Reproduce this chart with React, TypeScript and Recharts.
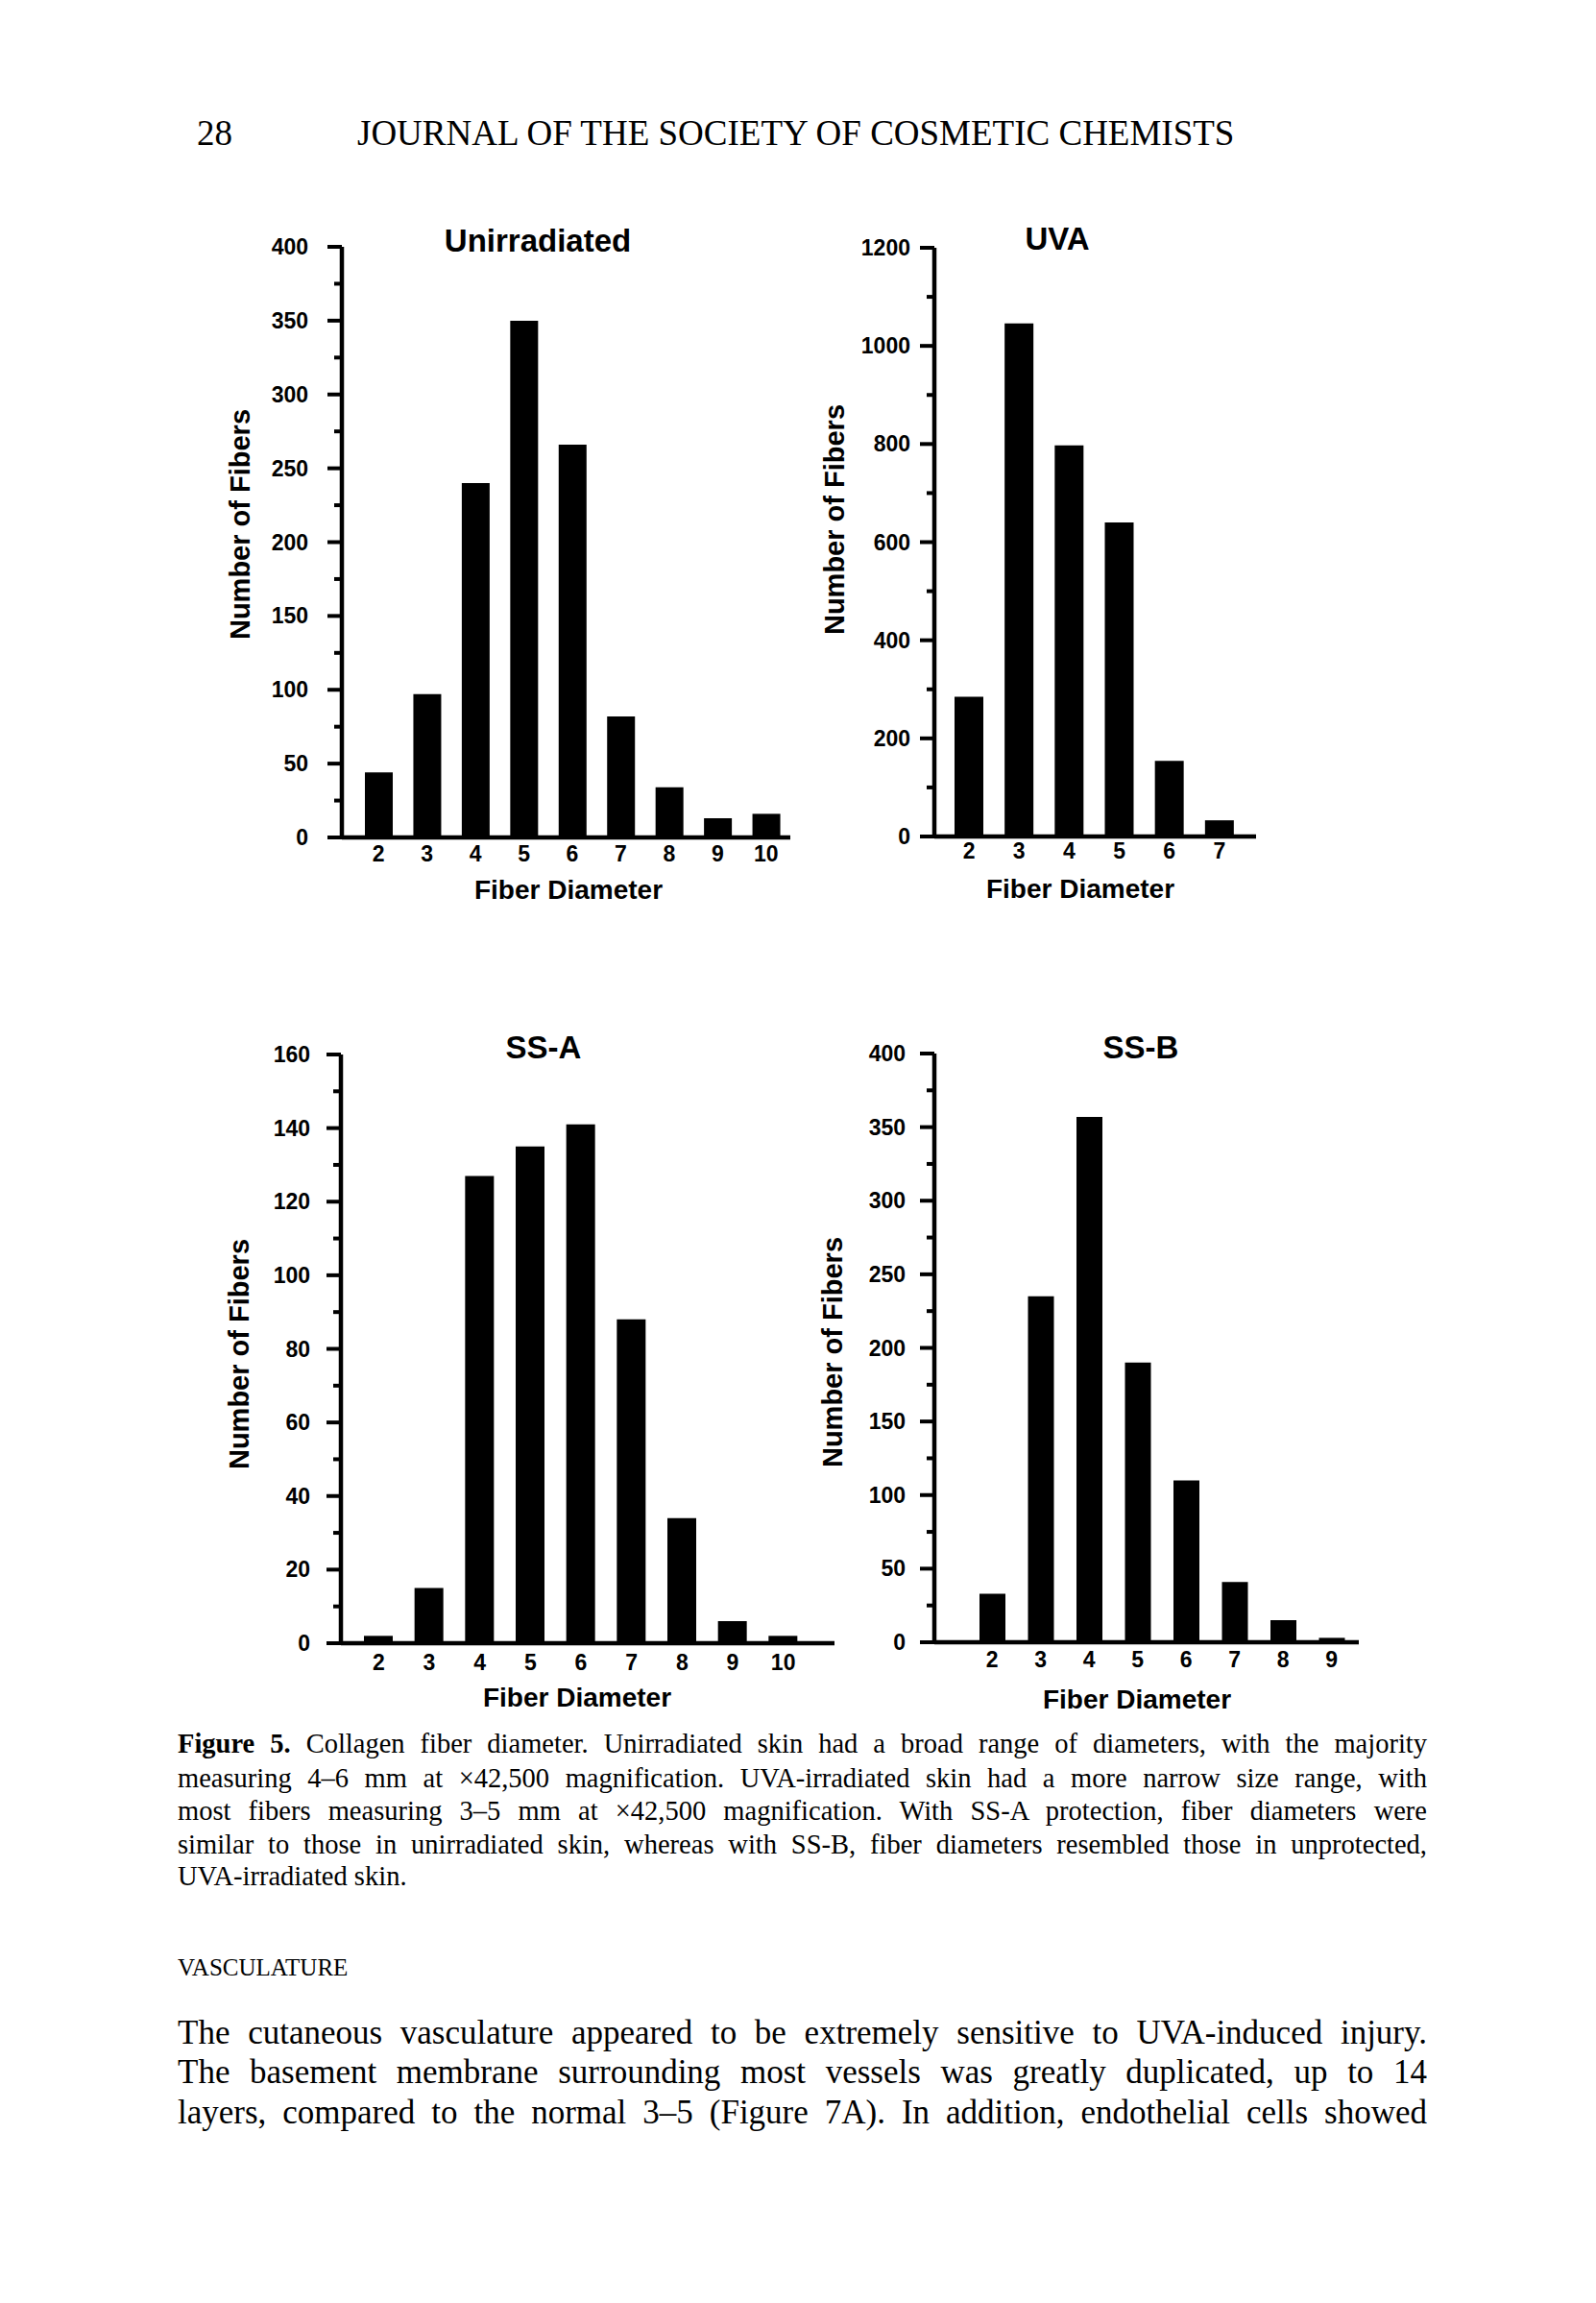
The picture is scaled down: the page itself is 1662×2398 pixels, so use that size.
import React from 'react';
import { BarChart, Bar, XAxis, YAxis } from 'recharts';

// Figure 5 - collagen fiber diameter
const unirradiatedDiameters = ['2', '3', '4', '5', '6', '7', '8', '9', '10'];
const unirradiatedCounts = [44, 97, 240, 350, 266, 82, 34, 13, 16];
const unirradiatedTicks = [0, 25, 50, 75, 100, 125, 150, 175, 200, 225, 250, 275, 300, 325, 350, 375, 400];

const uvaDiameters = ['2', '3', '4', '5', '6', '7'];
const uvaCounts = [285, 1046, 797, 640, 154, 33];
const uvaTicks = [0, 100, 200, 300, 400, 500, 600, 700, 800, 900, 1000, 1100, 1200];

const ssaDiameters = ['2', '3', '4', '5', '6', '7', '8', '9', '10'];
const ssaCounts = [2, 15, 127, 135, 141, 88, 34, 6, 2];
const ssaTicks = [0, 10, 20, 30, 40, 50, 60, 70, 80, 90, 100, 110, 120, 130, 140, 150, 160];

const ssbDiameters = ['2', '3', '4', '5', '6', '7', '8', '9'];
const ssbCounts = [33, 235, 357, 190, 110, 41, 15, 3];
const ssbTicks = [0, 25, 50, 75, 100, 125, 150, 175, 200, 225, 250, 275, 300, 325, 350, 375, 400];

const captionLines = [
  'Collagen fiber diameter. Unirradiated skin had a broad range of diameters, with the majority',
  'measuring 4\u20136 mm at \u00d742,500 magnification. UVA-irradiated skin had a more narrow size range, with',
  'most fibers measuring 3\u20135 mm at \u00d742,500 magnification. With SS-A protection, fiber diameters were',
  'similar to those in unirradiated skin, whereas with SS-B, fiber diameters resembled those in unprotected,',
  'UVA-irradiated skin.',
];

const bodyLines = [
  'The cutaneous vasculature appeared to be extremely sensitive to UVA-induced injury.',
  'The basement membrane surrounding most vessels was greatly duplicated, up to 14',
  'layers, compared to the normal 3\u20135 (Figure 7A). In addition, endothelial cells showed',
];

const SANS = '"Liberation Sans", Arial, Helvetica, sans-serif';
const SERIF = '"Liberation Serif", "Times New Roman", serif';

type Box = { left: number; top: number; right: number; bottom: number };

interface PanelProps {
  title: string;
  diameters: string[];
  counts: number[];
  ticks: number[];
  majorStep: number;
  plot: Box;
  padLeft: number;
  padRight: number;
  barSize: number;
  titleAt: [number, number];
  xLabelAt: [number, number];
  yLabelAt: [number, number];
  labelGap: number;
  xTickDy: number;
}

const centered = (x: number, y: number, extra: React.CSSProperties = {}): React.CSSProperties => ({
  position: 'absolute',
  left: x,
  top: y,
  transform: 'translate(-50%, -50%)',
  whiteSpace: 'nowrap',
  lineHeight: 1,
  fontFamily: SANS,
  fontWeight: 'bold',
  color: '#000',
  ...extra,
});

const PAD_L = 120;
const PAD_T = 30;
const PAD_R = 30;
const PAD_B = 50;
const Y_W = 60;
const X_H = 30;

const Panel: React.FC<PanelProps> = (p) => {
  const data = p.diameters.map((d, i) => ({ diameter: d, count: p.counts[i] }));
  const plotW = p.plot.right - p.plot.left;
  const plotH = p.plot.bottom - p.plot.top;
  const yMax = p.ticks[p.ticks.length - 1];

  const YTick = (props: any) => {
    const { x, y, payload } = props;
    const major = payload.value % p.majorStep === 0;
    return (
      <g>
        <line x1={x - (major ? 15 : 8)} x2={x} y1={y} y2={y} stroke="#000" strokeWidth={4} />
        {major && (
          <text
            x={x - p.labelGap}
            y={y}
            textAnchor="end"
            dominantBaseline="central"
            fontSize={23}
            fontWeight="bold"
            fontFamily={SANS}
            fill="#000"
          >
            {payload.value}
          </text>
        )}
      </g>
    );
  };

  const XTick = (props: any) => {
    const { x, y, payload } = props;
    return (
      <text
        x={x}
        y={y + p.xTickDy}
        textAnchor="middle"
        dominantBaseline="central"
        fontSize={23}
        fontWeight="bold"
        fontFamily={SANS}
        fill="#000"
      >
        {payload.value}
      </text>
    );
  };

  return (
    <>
      <div style={{ position: 'absolute', left: p.plot.left - PAD_L, top: p.plot.top - PAD_T }}>
        <BarChart
          width={plotW + PAD_L + PAD_R}
          height={plotH + PAD_T + PAD_B}
          data={data}
          margin={{ top: PAD_T, right: PAD_R, bottom: PAD_B - X_H, left: PAD_L - Y_W }}
        >
          <XAxis
            dataKey="diameter"
            type="category"
            interval={0}
            height={X_H}
            padding={{ left: p.padLeft, right: p.padRight }}
            tickLine={false}
            tickSize={0}
            tickMargin={0}
            axisLine={{ stroke: '#000', strokeWidth: 4.5 }}
            tick={XTick}
          />
          <YAxis
            type="number"
            domain={[0, yMax]}
            ticks={p.ticks}
            interval={0}
            width={Y_W}
            tickLine={false}
            tickSize={0}
            tickMargin={0}
            axisLine={{ stroke: '#000', strokeWidth: 4.5 }}
            tick={YTick}
          />
          <Bar dataKey="count" fill="#000" barSize={p.barSize} isAnimationActive={false} />
        </BarChart>
      </div>
      <div style={centered(p.titleAt[0], p.titleAt[1], { fontSize: 33 })}>{p.title}</div>
      <div style={centered(p.xLabelAt[0], p.xLabelAt[1], { fontSize: 28 })}>Fiber Diameter</div>
      <div
        style={centered(p.yLabelAt[0], p.yLabelAt[1], {
          fontSize: 29,
          transform: 'translate(-50%, -50%) rotate(-90deg)',
        })}
      >
        Number of Fibers
      </div>
    </>
  );
};

const lineStyle = (top: number, size: number, justify: boolean): React.CSSProperties => ({
  position: 'absolute',
  left: 185,
  top: top - size / 2,
  width: 1301,
  fontFamily: SERIF,
  fontSize: size,
  lineHeight: `${size}px`,
  color: '#000',
  textAlign: justify ? 'justify' : 'left',
  textAlignLast: justify ? 'justify' : 'left',
});

const captionTops = [1816, 1852, 1886, 1921, 1954];
const bodyTops = [2116, 2157, 2199];

export default function App() {
  return (
    <div
      style={{
        position: 'absolute',
        left: 0,
        top: 0,
        width: 1662,
        height: 2398,
        overflow: 'hidden',
        background: '#fff',
      }}
    >
      <div style={{ position: 'absolute', left: 205, top: 138 - 18.5, fontFamily: SERIF, fontSize: 37, lineHeight: '37px' }}>
        28
      </div>
      <div style={{ position: 'absolute', left: 372, top: 138 - 18.5, fontFamily: SERIF, fontSize: 37, lineHeight: '37px', whiteSpace: 'nowrap' }}>
        JOURNAL OF THE SOCIETY OF COSMETIC CHEMISTS
      </div>

      <Panel
        title="Unirradiated"
        diameters={unirradiatedDiameters}
        counts={unirradiatedCounts}
        ticks={unirradiatedTicks}
        majorStep={50}
        plot={{ left: 356, top: 257, right: 823, bottom: 872 }}
        padLeft={13}
        padRight={0}
        barSize={29}
        titleAt={[560, 250]}
        xLabelAt={[592, 927]}
        yLabelAt={[250, 546]}
        labelGap={35}
        xTickDy={17}
      />
      <Panel
        title="UVA"
        diameters={uvaDiameters}
        counts={uvaCounts}
        ticks={uvaTicks}
        majorStep={200}
        plot={{ left: 973, top: 258, right: 1308, bottom: 871 }}
        padLeft={10}
        padRight={12}
        barSize={30}
        titleAt={[1101, 248]}
        xLabelAt={[1125, 926]}
        yLabelAt={[869, 541]}
        labelGap={25}
        xTickDy={15}
      />
      <Panel
        title="SS-A"
        diameters={ssaDiameters}
        counts={ssaCounts}
        ticks={ssaTicks}
        majorStep={20}
        plot={{ left: 355, top: 1098, right: 869, bottom: 1711 }}
        padLeft={13}
        padRight={27}
        barSize={30}
        titleAt={[566, 1090]}
        xLabelAt={[601, 1768]}
        yLabelAt={[249, 1410]}
        labelGap={32}
        xTickDy={20}
      />
      <Panel
        title="SS-B"
        diameters={ssbDiameters}
        counts={ssbCounts}
        ticks={ssbTicks}
        majorStep={50}
        plot={{ left: 973, top: 1097, right: 1415, bottom: 1710 }}
        padLeft={35}
        padRight={3}
        barSize={27}
        titleAt={[1188, 1090]}
        xLabelAt={[1184, 1770]}
        yLabelAt={[867, 1408]}
        labelGap={30}
        xTickDy={18}
      />

      {captionLines.map((line, i) => (
        <div key={i} style={lineStyle(captionTops[i], 28.5, i < captionLines.length - 1)}>
          {i === 0 && <b>Figure 5.</b>} {line}
        </div>
      ))}

      <div style={{ position: 'absolute', left: 185, top: 2048 - 12.5, fontFamily: SERIF, fontSize: 25, lineHeight: '25px' }}>
        VASCULATURE
      </div>

      {bodyLines.map((line, i) => (
        <div key={i} style={lineStyle(bodyTops[i], 35, true)}>
          {line}
        </div>
      ))}
    </div>
  );
}
